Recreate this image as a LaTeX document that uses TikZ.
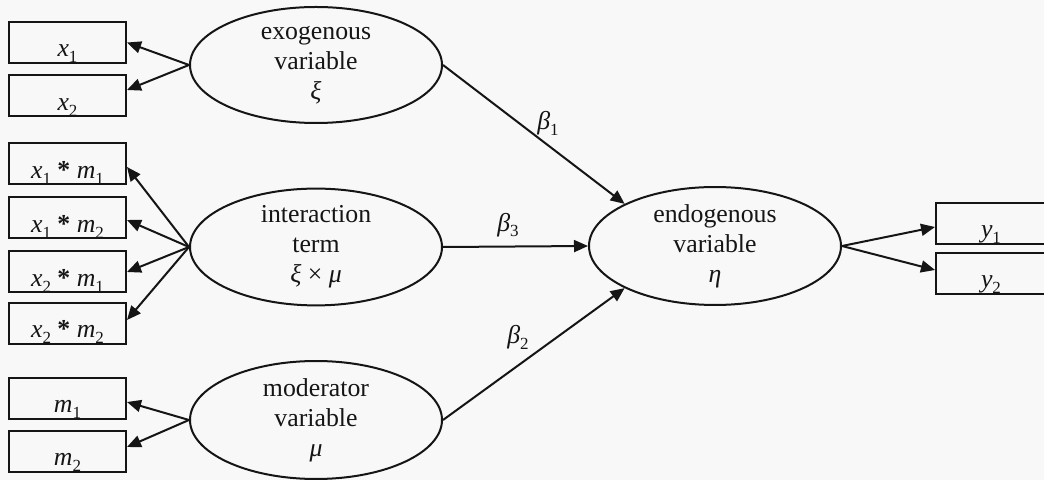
\documentclass[tikz,border=0pt]{standalone}
\usepackage{fontspec}
\setmainfont{Liberation Serif}
\usetikzlibrary{arrows.meta,shapes.geometric,calc}
% small lowered index, as in x_1, m_2, beta_3
\newcommand{\lowidx}[1]{\raisebox{-0.5ex}{\fontsize{8.5}{8.5}\selectfont #1}}
\definecolor{paper}{HTML}{F8F8F8}
\definecolor{ink}{HTML}{151515}
\begin{document}
\begin{tikzpicture}[x=0.5pt,y=-0.5pt,
  every node/.style={font=\fontsize{12.9}{15}\selectfont, text=ink},
  latent/.style={draw=ink, line width=1pt, ellipse, minimum width=126pt,
    minimum height=58pt, inner sep=0pt, align=center},
  indicator/.style={draw=ink, line width=1pt, rectangle, minimum width=58.5pt,
    inner sep=0pt, text height=17.5pt, text depth=3pt},
  link/.style={draw=ink, line width=1pt, -{Triangle[length=7pt,width=6pt]}},
  coef/.style={inner sep=1pt}]
  \fill[paper] (0,0) rectangle (1044,480);
  \useasboundingbox (0,0) rectangle (1044,480);
  \clip (0,0) rectangle (1044,480);

  % latent variables
  \node[latent] (exo)  at (316,65)  {exogenous\\variable\\\textit{ξ}};
  \node[latent] (int)  at (316,247) {interaction\\term\\\textit{ξ} × \textit{μ}};
  \node[latent] (mod)  at (316,420) {moderator\\variable\\\textit{μ}};
  \node[latent] (endo) at (715,246) {endogenous\\variable\\\textit{η}};

  % indicators
  \node[indicator] (x1)   at (67.5,42.5)  {\textit{x}\lowidx{1}};
  \node[indicator] (x2)   at (67.5,96)    {\textit{x}\lowidx{2}};
  \node[indicator] (x1m1) at (67.5,164)   {\textit{x}\lowidx{1} \textbf{*} \textit{m}\lowidx{1}};
  \node[indicator] (x1m2) at (67.5,218)   {\textit{x}\lowidx{1} \textbf{*} \textit{m}\lowidx{2}};
  \node[indicator] (x2m1) at (67.5,272)   {\textit{x}\lowidx{2} \textbf{*} \textit{m}\lowidx{1}};
  \node[indicator] (x2m2) at (67.5,323.5) {\textit{x}\lowidx{2} \textbf{*} \textit{m}\lowidx{2}};
  \node[indicator] (m1)   at (67.5,398.5) {\textit{m}\lowidx{1}};
  \node[indicator] (m2)   at (67.5,451.5) {\textit{m}\lowidx{2}};
  \node[indicator, minimum width=55pt] (y1) at (991,223.5) {\textit{y}\lowidx{1}};
  \node[indicator, minimum width=55pt] (y2) at (991,273.5) {\textit{y}\lowidx{2}};

  % measurement paths
  \draw[link] (exo.west) -- (x1.east);
  \draw[link] (exo.west) -- ($(x2.east)+(0,-6)$);
  \draw[link] (int.west) -- ($(x1m1.east)+(0,3)$);
  \draw[link] (int.west) -- ($(x1m2.east)+(0,2)$);
  \draw[link] (int.west) -- (x2m1.east);
  \draw[link] (int.west) -- ($(x2m2.east)+(0,-3.5)$);
  \draw[link] (mod.west) -- ($(m1.east)+(0,3.5)$);
  \draw[link] (mod.west) -- ($(m2.east)+(0,-4.5)$);
  \draw[link] (endo.east) -- ($(y1.west)+(0,3.5)$);
  \draw[link] (endo.east) -- ($(y2.west)+(0,-3.5)$);

  % structural paths
  \draw[link] (exo.east) -- (endo.155);
  \draw[link] (int.east) -- (endo.west);
  \draw[link] (mod.east) -- (endo.205);

  \node[coef] (b1) at (548,123) {\textit{β}\lowidx{1}};
  \node[coef] (b3) at (508,225) {\textit{β}\lowidx{3}};
  \node[coef] (b2) at (518,337) {\textit{β}\lowidx{2}};
\end{tikzpicture}
\end{document}
